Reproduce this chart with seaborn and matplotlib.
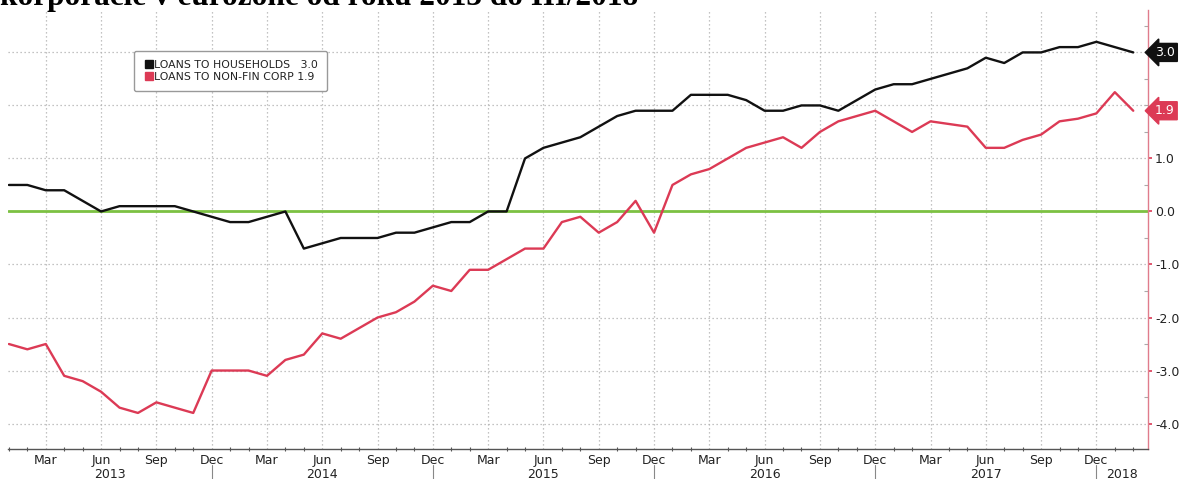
import numpy as np
import pandas as pd
import matplotlib
matplotlib.use("Agg")
import matplotlib.pyplot as plt
import matplotlib.transforms as mtransforms
from matplotlib.lines import Line2D
import seaborn as sns

# ---------------- data ----------------
households = [0.5, 0.5, 0.4, 0.4, 0.2, 0.0, 0.1, 0.1, 0.1, 0.1, 0.0, -0.1,      # 2013
              -0.2, -0.2, -0.1, 0.0, -0.7, -0.6, -0.5, -0.5, -0.5, -0.4, -0.4, -0.3,  # 2014
              -0.2, -0.2, 0.0, 0.0, 1.0, 1.2, 1.3, 1.4, 1.6, 1.8, 1.9, 1.9,    # 2015
              1.9, 2.2, 2.2, 2.2, 2.1, 1.9, 1.9, 2.0, 2.0, 1.9, 2.1, 2.3,      # 2016
              2.4, 2.4, 2.5, 2.6, 2.7, 2.9, 2.8, 3.0, 3.0, 3.1, 3.1, 3.2,      # 2017
              3.1, 3.0]                                                        # 2018
nonfin_corp = [-2.5, -2.6, -2.5, -3.1, -3.2, -3.4, -3.7, -3.8, -3.6, -3.7, -3.8, -3.0,   # 2013
               -3.0, -3.0, -3.1, -2.8, -2.7, -2.3, -2.4, -2.2, -2.0, -1.9, -1.7, -1.4,  # 2014
               -1.5, -1.1, -1.1, -0.9, -0.7, -0.7, -0.2, -0.1, -0.4, -0.2, 0.2, -0.4,  # 2015
               0.5, 0.7, 0.8, 1.0, 1.2, 1.3, 1.4, 1.2, 1.5, 1.7, 1.8, 1.9,        # 2016
               1.7, 1.5, 1.7, 1.65, 1.6, 1.2, 1.2, 1.35, 1.45, 1.7, 1.75, 1.85,   # 2017
               2.25, 1.9]                                                         # 2018
dates = pd.date_range("2013-01-01", periods=len(households), freq="MS")
series_names = ["LOANS TO HOUSEHOLDS", "LOANS TO NON-FIN CORP"]
last_labels = ["3.0", "1.9"]
quarter_labels = ["Mar", "Jun", "Sep", "Dec"]
year_labels = ["2013", "2014", "2015", "2016", "2017", "2018"]
title_text = "korporácie v eurozóne od roku 2013 do III/2018"

BLACK = "#111111"
RED = "#dc3a55"
GREEN = "#7cc142"

idx = np.arange(len(dates))
df = pd.DataFrame({"m": np.concatenate([idx, idx]),
                   "value": households + nonfin_corp,
                   "series": [series_names[0]] * len(idx) + [series_names[1]] * len(idx)})

sns.set_theme(style="white")
plt.rcParams["font.family"] = ["DejaVu Sans"]

fig = plt.figure(figsize=(11.82, 4.79), dpi=100)
ax = fig.add_axes([8 / 1182, 30 / 479, 1140 / 1182, 439 / 479])

ax.axhline(0, color=GREEN, lw=2.0, zorder=2)
sns.lineplot(data=df, x="m", y="value", hue="series",
             palette={series_names[0]: BLACK, series_names[1]: RED},
             linewidth=1.7, ax=ax, legend=False, zorder=3)

ax.set_xlim(-0.05, len(idx) - 1 + 0.8)
ax.set_ylim(-4.48, 3.8)

# grid
ax.set_yticks([-4, -3, -2, -1, 0, 1])
ax.set_yticklabels(["-4.0", "-3.0", "-2.0", "-1.0", "0.0", "1.0"])
ax.set_yticks(np.arange(-4.0, 3.6, 0.5), minor=True)
for v in [-4, -3, -2, -1, 1, 2, 3]:
    ax.axhline(v, color="#b0b0b0", lw=0.9, ls=(0, (1, 2.2)), zorder=1)

month_of = dates.month
q_idx = [i for i in idx if month_of[i] in (3, 6, 9, 12)]
for q in q_idx:
    ax.axvline(q, color="#b0b0b0", lw=0.9, ls=(0, (1, 2.2)), zorder=1)

ax.set_xticks(q_idx)
ax.set_xticklabels([quarter_labels[[3, 6, 9, 12].index(month_of[i])] for i in q_idx])
ax.set_xticks(idx, minor=True)

ax.yaxis.tick_right()
ax.tick_params(axis="y", which="major", direction="out", length=3, width=1.2,
               color=RED, labelsize=9, pad=2, labelcolor="#222222")
ax.tick_params(axis="y", which="minor", direction="in", length=3, width=0.8,
               color="#aaaaaa", right=True, left=False)
ax.tick_params(axis="x", which="major", direction="inout", length=5, width=0.8,
               color="#555555", labelsize=9, pad=1, labelcolor="#222222")
ax.tick_params(axis="x", which="minor", direction="inout", length=3, width=0.8,
               color="#555555", bottom=True)

for s in ["top", "left"]:
    ax.spines[s].set_visible(False)
ax.spines["right"].set_color("#e07c8c")
ax.spines["right"].set_linewidth(1.0)
ax.spines["bottom"].set_color("#555555")
ax.spines["bottom"].set_linewidth(1.0)
ax.set_xlabel("")
ax.set_ylabel("")

# year labels and separators
trans = mtransforms.blended_transform_factory(ax.transData, ax.transAxes)
dec_idx = [i for i in idx if month_of[i] == 12]
bounds = [ax.get_xlim()[0]] + dec_idx + [ax.get_xlim()[1]]
for k, yl in enumerate(year_labels):
    ax.text((bounds[k] + bounds[k + 1]) / 2, -0.058, yl, transform=trans,
            ha="center", va="center", fontsize=9, color="#222222")
for d in dec_idx:
    ax.plot([d, d], [-0.036, -0.08], transform=trans, color="#888888",
            lw=0.8, clip_on=False)

# last value tags
for val, lab, col in [(households[-1], last_labels[0], BLACK),
                      (nonfin_corp[-1], last_labels[1], RED)]:
    ax.annotate(lab, xy=(1.0, val), xycoords=("axes fraction", "data"),
                xytext=(5, 0), textcoords="offset points", ha="left", va="center",
                fontsize=9, color="white",
                bbox=dict(boxstyle="larrow,pad=0.2", fc=col, ec=col))

# legend
handles = [Line2D([], [], marker="s", ls="", color=BLACK, markersize=6),
           Line2D([], [], marker="s", ls="", color=RED, markersize=6)]
labels = [f"{series_names[0]}   {last_labels[0]}", f"{series_names[1]} {last_labels[1]}"]
leg = ax.legend(handles, labels, loc="upper left", bbox_to_anchor=(0.106, 0.92),
                frameon=True, fontsize=7.8, handletextpad=0.0, handlelength=1.0,
                borderpad=0.85, labelspacing=0.2, fancybox=True, framealpha=1)
leg.get_frame().set_edgecolor("#999999")
leg.get_frame().set_linewidth(1.0)
for t in leg.get_texts():
    t.set_color("#222222")

# clipped title (the reference shows only its lower part)
fig.text(0.0, 1 - 5.5 / 479, title_text, ha="left", va="baseline",
         fontsize=22.5, fontweight="bold", family=["Liberation Serif", "DejaVu Serif"],
         color="black")

fig.savefig("out.png", dpi=100)
